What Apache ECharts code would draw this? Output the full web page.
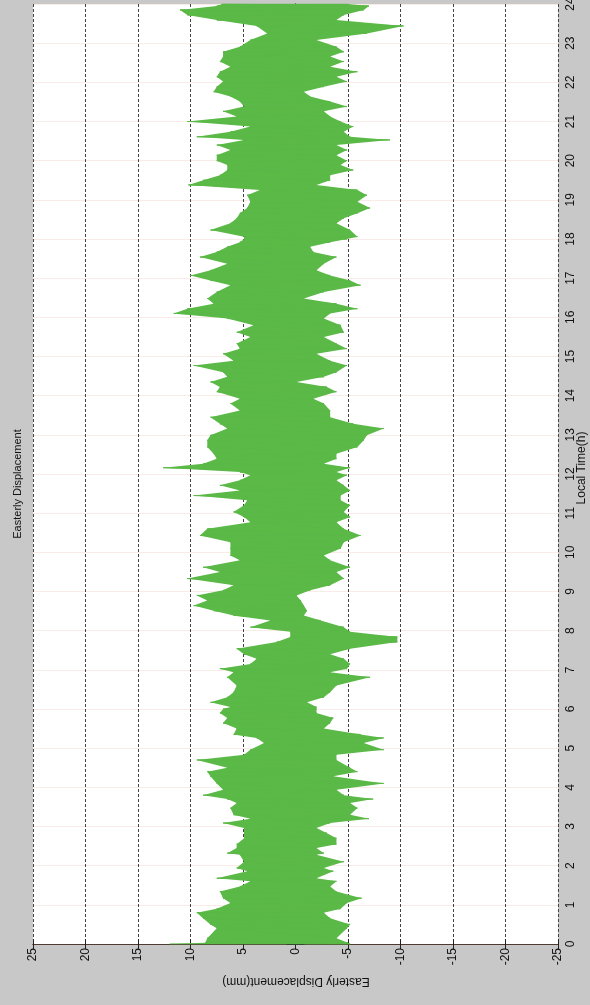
<!DOCTYPE html>
<html>
<head>
<meta charset="utf-8">
<title>Easterly Displacement</title>
<script src="https://cdn.jsdelivr.net/npm/echarts@6/dist/echarts.min.js"></script>
<style>
  html, body { margin: 0; padding: 0; background: #c8c8c8; }
  #chart { width: 590px; height: 1005px; }
</style>
</head>
<body>
<div id="chart"></div>
<script>
// Local time of each reading (h)
const hours = [
  0.00, 0.03, 0.15, 0.40, 0.50, 0.66, 0.80, 0.90, 1.05, 1.17, 1.34, 1.47, 1.60, 1.68, 1.86, 1.94,
  2.10, 2.28, 2.32, 2.45, 2.55, 2.70, 2.83, 2.96, 3.09, 3.20, 3.30, 3.47, 3.60, 3.70, 3.80,
  3.94, 4.10, 4.28, 4.40, 4.50, 4.70, 4.83, 4.96, 5.13, 5.26, 5.35, 5.50, 5.64, 5.77, 5.90,
  6.00, 6.05, 6.17, 6.30, 6.43, 6.60, 6.81, 6.94, 7.03, 7.15, 7.28, 7.40, 7.54, 7.71, 7.84,
  7.97, 8.09, 8.26, 8.39, 8.51, 8.64, 8.77, 8.90, 9.03, 9.16, 9.33, 9.50, 9.62, 9.80, 9.92,
  10.10, 10.26, 10.43, 10.60, 10.77, 10.90, 11.03, 11.20, 11.33, 11.45, 11.58, 11.71, 11.84, 11.97,
  12.05, 12.16, 12.26, 12.39, 12.52, 12.69, 12.86, 12.99, 13.16, 13.28, 13.45, 13.62, 13.80, 13.92,
  14.10, 14.22, 14.35, 14.48, 14.60, 14.77, 14.89, 15.07, 15.20, 15.33, 15.50, 15.62, 15.80, 15.97,
  16.10, 16.22, 16.35, 16.48, 16.65, 16.82, 16.94, 17.07, 17.20, 17.37, 17.54, 17.67, 17.80, 17.92,
  18.00, 18.06, 18.23, 18.40, 18.53, 18.66, 18.79, 18.95, 19.12, 19.25, 19.38, 19.50, 19.63, 19.76,
  19.89, 20.00, 20.14, 20.27, 20.40, 20.53, 20.61, 20.74, 20.87, 21.00, 21.13, 21.26, 21.38, 21.51,
  21.64, 21.76, 21.89, 22.02, 22.14, 22.27, 22.40, 22.53, 22.66, 22.78, 22.91, 23.08, 23.25, 23.44,
  23.59, 23.72, 23.85, 23.95, 24.00
];

// Easterly displacement, upper excursion at each reading (mm)
const eastHi = [
  12.0, 8.6, 8.4, 7.5, 8.1, 8.8, 9.4, 7.5, 6.2, 6.9, 7.2, 5.3, 4.3, 7.5, 4.6, 5.6,
  4.9, 5.3, 6.5, 5.6, 5.6, 4.9, 4.9, 4.9, 6.9, 4.3, 5.9, 6.2, 5.6, 6.5, 8.8,
  6.9, 7.5, 8.1, 8.4, 6.5, 9.4, 4.9, 4.3, 3.0, 3.7, 5.9, 5.6, 6.9, 6.5, 7.2,
  6.9, 6.2, 8.1, 6.5, 5.9, 5.6, 6.5, 5.9, 7.2, 4.3, 3.7, 4.9, 5.6, 1.8, 0.5,
  0.5, 4.3, 2.4, 5.9, 7.8, 9.7, 8.4, 9.4, 6.9, 5.9, 10.3, 7.2, 8.8, 5.3, 6.2,
  6.2, 6.2, 9.1, 8.4, 4.3, 4.9, 5.9, 4.9, 4.6, 9.7, 5.3, 7.2, 5.3, 4.3,
  5.3, 12.6, 8.8, 7.5, 7.8, 8.4, 8.4, 8.1, 6.5, 7.2, 8.1, 5.3, 6.2, 5.3,
  7.5, 7.2, 8.1, 6.5, 6.9, 9.7, 5.9, 6.9, 5.3, 5.6, 4.3, 5.6, 4.0, 6.5,
  11.6, 10.3, 7.8, 8.4, 7.5, 6.2, 8.1, 10.0, 8.1, 6.5, 9.1, 7.5, 6.5, 5.3,
  4.9, 4.9, 8.1, 6.2, 5.6, 5.3, 4.6, 4.3, 4.6, 3.4, 10.2, 8.8, 7.2, 6.5,
  6.5, 7.5, 7.5, 6.2, 7.5, 4.9, 9.4, 6.2, 4.3, 10.3, 5.6, 6.9, 4.9, 5.3,
  6.2, 7.8, 7.5, 6.9, 7.5, 7.2, 6.2, 7.2, 6.9, 6.9, 5.3, 4.3, 2.7, 3.7,
  7.5, 10.3, 11.0, 7.5, 7.0
];

// Easterly displacement, lower excursion at each reading (mm)
const eastLo = [
  -5.2, -5.0, -3.9, -4.9, -5.2, -3.3, -2.7, -4.3, -4.9, -6.3, -3.9, -3.3, -3.9, -2.0, -3.6, -2.7,
  -4.6, -2.0, -2.7, -2.0, -3.9, -3.9, -3.0, -2.0, -3.3, -7.0, -5.2, -5.9, -5.2, -7.4, -4.6,
  -3.9, -8.4, -3.6, -5.9, -5.2, -3.9, -3.9, -8.4, -6.5, -8.4, -6.2, -2.7, -3.3, -3.6, -2.0,
  -2.0, -2.0, -1.1, -2.7, -3.3, -3.9, -7.1, -3.3, -4.9, -5.2, -4.6, -3.3, -5.2, -9.7, -9.7,
  -5.2, -4.6, -2.4, -0.8, -1.1, -0.8, -0.5, -0.1, -1.4, -3.3, -4.6, -3.9, -5.2, -3.3, -2.7,
  -4.3, -4.6, -6.2, -4.6, -3.9, -5.2, -4.6, -5.2, -4.3, -4.3, -5.2, -4.6, -3.9, -4.9,
  -3.9, -5.2, -2.7, -3.9, -3.9, -5.9, -6.5, -6.8, -8.4, -5.5, -3.3, -3.3, -2.7, -1.7,
  -3.9, -3.0, -0.1, -2.7, -3.9, -4.9, -3.3, -2.0, -4.9, -3.9, -2.7, -4.6, -4.3, -2.7,
  -3.3, -5.9, -3.9, -0.8, -2.7, -6.2, -5.2, -3.3, -2.0, -2.7, -3.9, -1.7, -1.4, -3.3,
  -4.9, -5.9, -5.2, -3.9, -4.6, -5.9, -7.1, -5.9, -6.8, -5.9, -2.0, -3.3, -3.3, -5.5,
  -4.3, -4.9, -3.9, -4.9, -3.9, -9.0, -5.2, -4.6, -5.5, -4.3, -3.3, -2.7, -4.9, -3.3,
  -1.4, -0.8, -2.7, -4.9, -3.9, -5.9, -3.3, -4.6, -3.3, -4.6, -3.9, -2.0, -6.8, -10.3,
  -3.9, -4.6, -6.5, -7.0, -5.0
];

// Axis tick labels
const dispTicks = [25, 20, 15, 10, 5, 0, -5, -10, -15, -20, -25];
const hourTicks = [0, 1, 2, 3, 4, 5, 6, 7, 8, 9, 10, 11, 12, 13, 14, 15, 16, 17, 18, 19, 20, 21, 22, 23, 24];

const TRACE = '#5bb947';
const FONT = 'Liberation Sans, Arial, Helvetica, sans-serif';

// Trace runs across the excursion at each reading, then on to the next one
const trace = [];
for (let i = 0; i < hours.length; i++) {
  trace.push([eastHi[i], hours[i]]);
  trace.push([eastLo[i], hours[i]]);
}

const chart = echarts.init(document.getElementById('chart'), null, { renderer: 'canvas' });

const frameLine = { show: true, lineStyle: { color: '#4e3b34', width: 1 } };

chart.setOption({
  animation: false,
  backgroundColor: '#c8c8c8',
  grid: {
    left: 33, right: 32, top: 4, bottom: 61,
    outerBoundsMode: 'none',
    containLabel: false,
    show: true, backgroundColor: '#ffffff', borderWidth: 0
  },
  xAxis: [
    {
      type: 'value', min: -25, max: 25, interval: 2.5, inverse: true, position: 'bottom',
      axisLine: frameLine,
      axisTick: { show: true, inside: true, length: 5, customValues: dispTicks, lineStyle: { color: '#222' } },
      axisLabel: {
        rotate: 90, margin: 4, fontSize: 12, color: '#111', fontFamily: FONT,
        customValues: dispTicks
      },
      splitLine: { show: true, lineStyle: { type: [3, 2], color: '#444', width: 1 } }
    },
    {
      type: 'value', min: -25, max: 25, interval: 2.5, inverse: true, position: 'top',
      axisLine: frameLine,
      axisTick: { show: true, inside: true, length: 5, customValues: dispTicks, lineStyle: { color: '#222' } },
      axisLabel: { show: false },
      splitLine: { show: false }
    }
  ],
  yAxis: [
    {
      type: 'value', min: 0, max: 24, interval: 1, position: 'right',
      axisLine: frameLine,
      axisTick: { show: true, inside: true, length: 9, customValues: hourTicks, lineStyle: { color: '#222' } },
      axisLabel: {
        rotate: 90, margin: 7, fontSize: 12, color: '#111', fontFamily: FONT,
        customValues: hourTicks
      },
      splitLine: { show: true, lineStyle: { color: 'rgba(235,190,180,0.3)', width: 1 } }
    },
    {
      type: 'value', min: 0, max: 24, interval: 1, position: 'left',
      axisLine: frameLine,
      axisTick: { show: true, inside: true, length: 9, customValues: hourTicks, lineStyle: { color: '#222' } },
      axisLabel: { show: false },
      splitLine: { show: false }
    }
  ],
  series: [
    {
      // solid band between the upper and lower excursions
      type: 'custom',
      xAxisIndex: 0, yAxisIndex: 0,
      data: [[0, 0]],
      silent: true,
      renderItem: function (params, api) {
        const pts = [];
        for (let i = 0; i < hours.length; i++) pts.push(api.coord([eastHi[i], hours[i]]));
        for (let i = hours.length - 1; i >= 0; i--) pts.push(api.coord([eastLo[i], hours[i]]));
        return { type: 'polygon', shape: { points: pts }, style: { fill: TRACE } };
      },
      z: 3
    },
    {
      type: 'line',
      xAxisIndex: 0, yAxisIndex: 0,
      data: trace,
      symbol: 'none',
      lineStyle: { color: TRACE, width: 1 },
      z: 4
    }
  ],
  graphic: [
    {
      type: 'text', x: 18, y: 484, rotation: Math.PI / 2,
      style: { text: 'Easterly Displacement', font: '11px ' + FONT, fill: '#111', textAlign: 'center', textVerticalAlign: 'middle' }
    },
    {
      type: 'text', x: 582, y: 468, rotation: Math.PI / 2,
      style: { text: 'Local Time(h)', font: '12px ' + FONT, fill: '#111', textAlign: 'center', textVerticalAlign: 'middle' }
    },
    {
      type: 'text', x: 296, y: 981, rotation: Math.PI,
      style: { text: 'Easterly Displacement(mm)', font: '12px ' + FONT, fill: '#111', textAlign: 'center', textVerticalAlign: 'middle' }
    }
  ]
});
</script>
</body>
</html>
